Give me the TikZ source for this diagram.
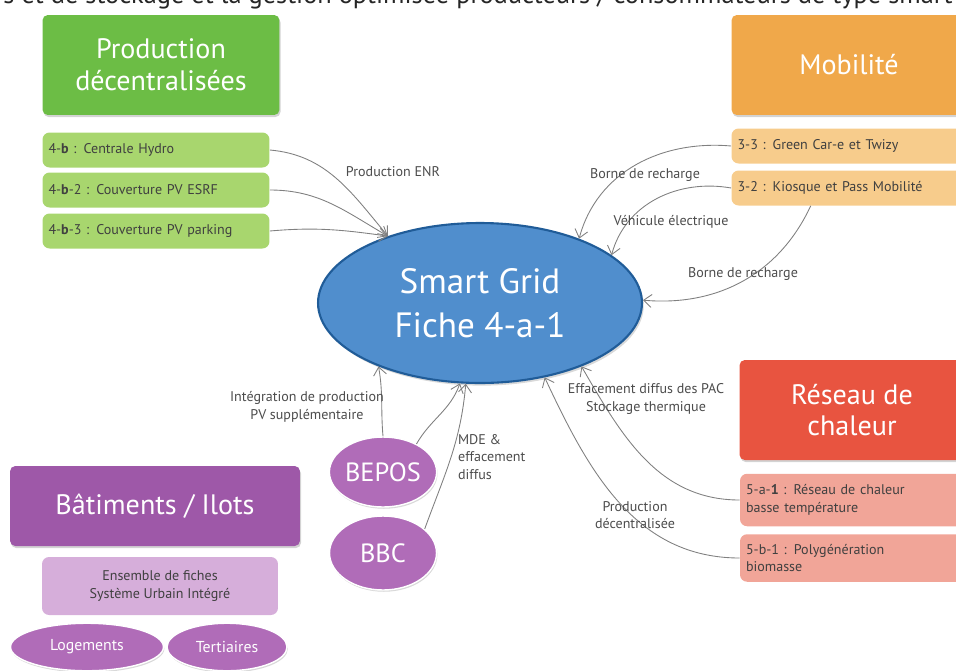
\documentclass[tikz,border=0pt]{standalone}
\usepackage{fontspec}
\setmainfont{PT Sans}
\usetikzlibrary{arrows.meta,shapes.geometric,shadows}
\definecolor{prodT}{RGB}{108,189,69}
\definecolor{prodI}{RGB}{168,214,110}
\definecolor{mobT}{RGB}{240,168,74}
\definecolor{mobI}{RGB}{247,204,140}
\definecolor{chalT}{RGB}{232,84,64}
\definecolor{chalI}{RGB}{241,165,152}
\definecolor{batT}{RGB}{158,88,168}
\definecolor{batE}{RGB}{176,108,184}
\definecolor{batI}{RGB}{214,174,218}
\definecolor{gridF}{RGB}{80,142,205}
\definecolor{gridD}{RGB}{32,92,152}

\begin{document}
\begin{tikzpicture}[x=0.02cm, y=-0.02cm,
  font=\fontsize{8}{10}\selectfont, >={Straight Barb[length=1.6mm,width=2.6mm]},
  title/.style={rounded corners=3pt, text=white, align=center, font=\fontsize{16}{18}\selectfont,
    minimum height=2cm, drop shadow={opacity=0.35, shadow xshift=0.6pt, shadow yshift=-1.2pt}},
  item/.style={rounded corners=4pt, text=black!75, align=left, inner xsep=0.12cm, minimum height=0.7cm},
  bulle/.style={ellipse, fill=batE, text=white, inner sep=0pt, draw=white, line width=0.8pt,
    drop shadow={opacity=0.3, shadow xshift=0.5pt, shadow yshift=-1pt}},
  link/.style={draw=black!50, line width=0.5pt, ->},
  lbl/.style={text=black!70, align=center, inner sep=1pt}]
\clip (0,0) rectangle (956,670);
\node[anchor=base, font=\fontsize{15}{17}\selectfont, text=black!85] (head) at (478,3)
  {s et de stockage et la gestion optimisée producteurs / consommateurs de type smart};
% ---- centre
\node[ellipse, fill=gridF, draw=gridD, line width=1.2pt, minimum width=6.48cm, minimum height=3.2cm,
  text=white, align=center, font=\fontsize{20}{25}\selectfont,
  drop shadow={opacity=0.3, shadow xshift=1pt, shadow yshift=-1.5pt}] (sg) at (480,303) {Smart Grid\\Fiche 4-a-1};
% ---- production
\node[title, fill=prodT, minimum width=4.74cm] (prod) at (161,65) {Production\\décentralisées};
\node[item, fill=prodI, text width=4.3cm] (g1) at (156,150) {4-\textbf{b} : Centrale Hydro};
\node[item, fill=prodI, text width=4.3cm] (g2) at (156,190) {4-\textbf{b}-2 : Couverture PV ESRF};
\node[item, fill=prodI, text width=4.3cm] (g3) at (156,231) {4-\textbf{b}-3 : Couverture PV parking};
\draw[link] (g1.east) to[out=-5,in=130] (sg.144);
\draw[link] (g2.east) to[out=0,in=150] (sg.144);
\draw[link] (g3.east) to[out=5,in=172] (sg.144);
\node[lbl] (enr) at (393,172) {Production ENR};
% ---- mobilite
\node[title, fill=mobT, minimum width=4.7cm] (mob) at (849,65) {Mobilité};
\node[item, fill=mobI, text width=4.46cm] (o1) at (849,146) {3-3 : Green Car-e et Twizy};
\node[item, fill=mobI, text width=4.46cm] (o2) at (849,188) {3-2 : Kiosque et Pass Mobilité};
\draw[link] (o1.west) to[out=175,in=75] (sg.33);
\draw[link] (o2.west) to[out=170,in=75] (sg.20);
\draw[link] (o2.-155) to[out=-115,in=-5] (sg.1);
\node[lbl] (br1) at (645,175) {Borne de recharge};
\node[lbl] (vel) at (671,222) {Véhicule électrique};
\node[lbl] (br2) at (743,274) {Borne de recharge};
% ---- reseau de chaleur
\node[title, fill=chalT, minimum width=4.5cm] (chal) at (852,410) {Réseau de\\chaleur};
\node[item, fill=chalI, text width=4.36cm, minimum height=1.05cm] (r1) at (855,500) {5-a-\textbf{1} : Réseau de chaleur\\basse température};
\node[item, fill=chalI, text width=4.36cm, minimum height=0.95cm] (r2) at (855,558) {5-b-1 : Polygénération\\biomasse};
\draw[link] (r1.west) to[out=180,in=-60] (sg.-32);
\draw[link] (r2.west) to[out=180,in=-65] (sg.-49);
\node[lbl] (pac) at (646,399) {Effacement diffus des PAC\\Stockage thermique};
\node[lbl] (pdec) at (635,515) {Production\\décentralisée};
% ---- batiments
\node[title, fill=batT, minimum width=5.8cm, minimum height=1.6cm] (bat) at (155,506) {Bâtiments / Ilots};
\node[item, fill=batI, minimum width=4.72cm, minimum height=1.16cm, align=center] (ens) at (160,586) {Ensemble de fiches\\Système Urbain Intégré};
\node[bulle, minimum width=3.06cm, minimum height=0.95cm, font=\fontsize{9}{10}\selectfont] (log) at (87,647) {Logements};
\node[bulle, minimum width=2.4cm, minimum height=0.95cm, font=\fontsize{9}{10}\selectfont] (ter) at (227,647) {Tertiaires};
\node[bulle, minimum width=2.14cm, minimum height=1.4cm, font=\fontsize{15}{17}\selectfont] (bepos) at (383,472) {BEPOS};
\node[bulle, minimum width=2.14cm, minimum height=1.48cm, font=\fontsize{15}{17}\selectfont] (bbc) at (383,553) {BBC};
\draw[link] (bepos.north) to[out=95,in=-80] (sg.212);
\draw[link] (bepos.40) to[out=60,in=-110] (sg.256);
\draw[link] (bbc.30) to[out=70,in=-95] (sg.260);
\node[lbl] (integ) at (307,407) {Intégration de production\\PV supplémentaire};
\node[lbl, align=left, anchor=north west] (mde) at (456,432) {MDE \&\\effacement\\diffus};
\end{tikzpicture}
\end{document}
